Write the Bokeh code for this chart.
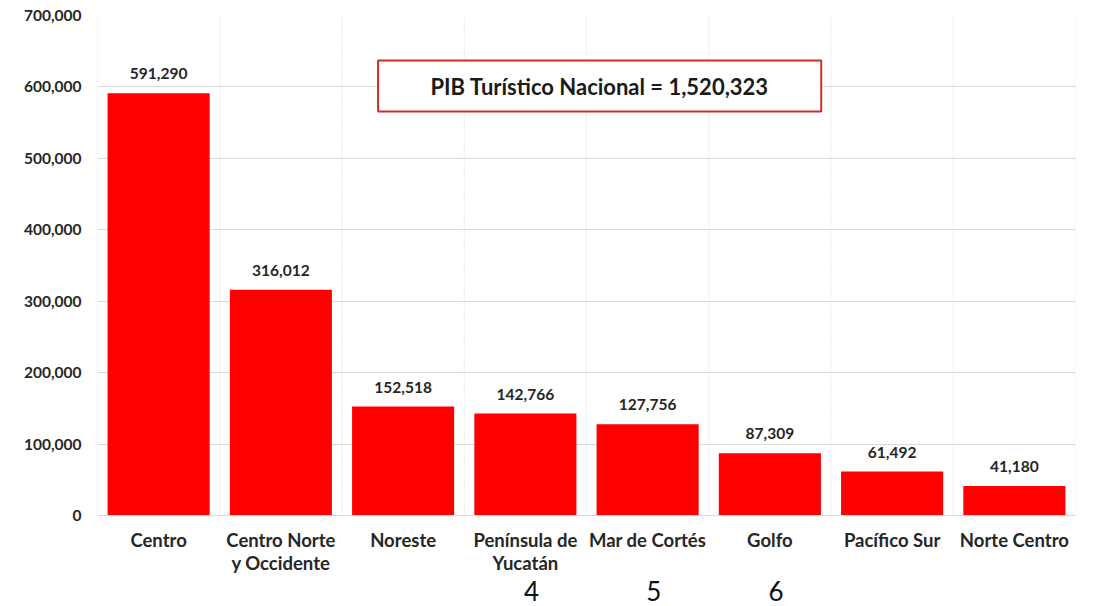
from bokeh.plotting import figure
from bokeh.models import (ColumnDataSource, Span, BoxAnnotation, Label, NumeralTickFormatter,
                          FixedTicker, LinearAxis)
from bokeh.core.properties import value
from bokeh.embed import file_html
from bokeh.resources import INLINE

categories = ["Centro", "Centro Norte y Occidente", "Noreste", "Península de Yucatán",
              "Mar de Cortés", "Golfo", "Pacífico Sur", "Norte Centro"]
label_line1 = ["Centro", "Centro Norte", "Noreste", "Península de",
               "Mar de Cortés", "Golfo", "Pacífico Sur", "Norte Centro"]
label_line2 = ["", "y Occidente", "", "Yucatán", "", "", "", ""]
values = [591290, 316012, 152518, 142766, 127756, 87309, 61492, 41180]
y_ticks = [0, 100000, 200000, 300000, 400000, 500000, 600000, 700000]
extra_marks = ["", "", "", "4", "5", "6", "", ""]

total = sum(values)
title_text = "PIB Turístico Nacional = {:,}".format(total)

FONT = "Lato"
TXT = "#262626"

n = len(categories)
centers = [i + 0.5 for i in range(n)]
src = ColumnDataSource(dict(x=centers, cat=categories, val=values,
                            lab=["{:,}".format(v) for v in values]))

p = figure(x_range=(0, n), y_range=(0, 700000), width=1094, height=606,
           output_backend="svg", toolbar_location=None, x_axis_location=None,
           min_border_left=97, min_border_right=19, min_border_top=15, min_border_bottom=91)
p.outline_line_color = None
p.background_fill_color = "white"

p.vbar(x="x", top="val", width=0.835, source=src, fill_color="#FF0000", line_color=None)
p.text(x="x", y="val", text="lab", source=src, text_align="center", text_baseline="bottom",
       y_offset=-14, text_font=value(FONT), text_font_style="bold", text_font_size="15.5px",
       text_color=TXT)

# grids
p.xgrid.grid_line_color = None
p.ygrid.grid_line_color = "#D9D9D9"
p.ygrid.grid_line_width = 1
p.yaxis.ticker = FixedTicker(ticks=y_ticks)
for i in range(n + 1):
    p.add_layout(Span(location=i, dimension="height", line_color="#CFCFCF",
                      line_dash="1 2", line_width=1))

# y axis
p.yaxis.formatter = NumeralTickFormatter(format="0,0")
p.yaxis.axis_line_color = None
p.yaxis.major_tick_line_color = None
p.yaxis.minor_tick_line_color = None
p.yaxis.major_tick_out = 0
p.yaxis.major_label_standoff = 16
p.yaxis.major_label_text_font = FONT
p.yaxis.major_label_text_font_style = "bold"
p.yaxis.major_label_text_font_size = "15.5px"
p.yaxis.major_label_text_color = TXT


def label_axis(texts, standoff, size, style, color, line_color=None, shift=0.0):
    pos = [c + shift for c in centers]
    ticks = [c for c, t in zip(pos, texts) if t]
    ax = LinearAxis(ticker=FixedTicker(ticks=ticks),
                    major_label_overrides={c: t for c, t in zip(pos, texts) if t},
                    axis_line_color=line_color, major_tick_line_color=None,
                    minor_tick_line_color=None, major_tick_out=0, major_tick_in=0,
                    minor_tick_out=0, major_label_standoff=standoff,
                    major_label_text_font=FONT, major_label_text_font_style=style,
                    major_label_text_font_size=size, major_label_text_color=color)
    p.add_layout(ax, "below")
    return ax


label_axis(label_line1, 13, "18.5px", "bold", TXT, line_color="#D9D9D9")
label_axis(label_line2, -2, "18.5px", "bold", TXT)
label_axis(extra_marks, 4, "26px", "normal", "#111111", shift=0.05)

# title box
p.add_layout(BoxAnnotation(left=2.295, right=5.92, bottom=565600, top=637000,
                           fill_color="white", fill_alpha=1.0,
                           line_color="#D42A2A", line_alpha=1.0, line_width=2))
p.add_layout(Label(x=4.107, y=601000, text=title_text, text_align="center",
                   text_baseline="middle", text_font=FONT, text_font_style="bold",
                   text_font_size="22px", text_color="#1A1A1A"))

open("out.html", "w").write(file_html(p, INLINE))
